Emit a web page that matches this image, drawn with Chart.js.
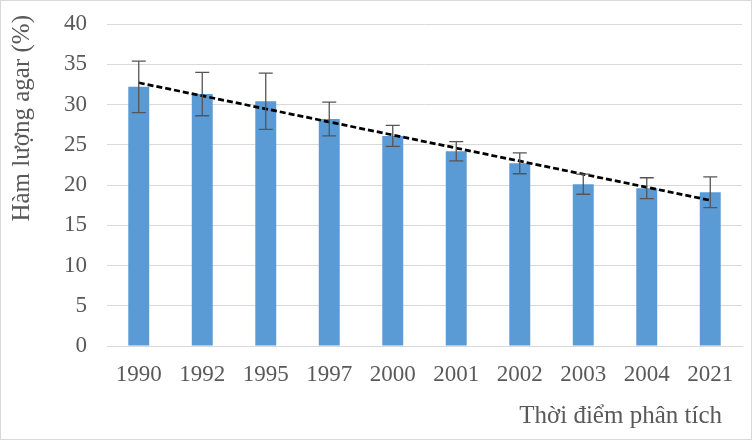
<!DOCTYPE html>
<html>
<head>
<meta charset="utf-8">
<script src="https://cdn.jsdelivr.net/npm/chart.js@4.4.0/dist/chart.umd.min.js"></script>
<style>
  body { margin: 0; background: #fff; }
  #wrap { width: 752px; height: 440px; position: relative; }
  #frame { position: absolute; left: 0; top: 0; width: 752px; height: 440px; box-sizing: border-box; border: 1px solid #d9d9d9; pointer-events: none; }
</style>
</head>
<body>
<div id="wrap"><canvas id="agar"></canvas><div id="frame"></div></div>
<script>
// Hàm lượng agar theo thời điểm phân tích
const years = ['1990', '1992', '1995', '1997', '2000', '2001', '2002', '2003', '2004', '2021'];
const agar = [32.2, 31.3, 30.4, 28.2, 26.1, 24.2, 22.7, 20.1, 19.6, 19.1];
const agarErr = [3.2, 2.7, 3.5, 2.1, 1.3, 1.2, 1.3, 1.25, 1.3, 1.9];
// đường xu hướng (điểm đầu và điểm cuối)
const trend = [32.7, null, null, null, null, null, null, null, null, 18.1];
const yTicks = [0, 5, 10, 15, 20, 25, 30, 35, 40];

const textColor = '#595959';
const serif = 'Liberation Serif, Times New Roman, serif';

// thanh sai số
const errorBars = {
  id: 'errorBars',
  afterDatasetsDraw(chart) {
    const ctx = chart.ctx;
    const y = chart.scales.y;
    const meta = chart.getDatasetMeta(0);
    ctx.save();
    ctx.strokeStyle = '#555555';
    ctx.lineWidth = 1.3;
    meta.data.forEach((bar, i) => {
      const top = y.getPixelForValue(agar[i] + agarErr[i]);
      const bot = y.getPixelForValue(agar[i] - agarErr[i]);
      ctx.beginPath();
      ctx.moveTo(bar.x, top);
      ctx.lineTo(bar.x, bot);
      ctx.moveTo(bar.x - 7, top);
      ctx.lineTo(bar.x + 7, top);
      ctx.moveTo(bar.x - 7, bot);
      ctx.lineTo(bar.x + 7, bot);
      ctx.stroke();
    });
    ctx.restore();
  }
};

// tiêu đề trục
const axisTitles = {
  id: 'axisTitles',
  afterDraw(chart) {
    const ctx = chart.ctx;
    const area = chart.chartArea;
    ctx.save();
    ctx.fillStyle = textColor;
    ctx.font = '25px ' + serif;
    ctx.textBaseline = 'middle';
    ctx.textAlign = 'right';
    ctx.fillText('Thời điểm phân tích', area.right - 20, area.bottom + 70);
    ctx.translate(22, area.top - 9);
    ctx.rotate(-Math.PI / 2);
    ctx.fillText('Hàm lượng agar (%)', 0, 0);
    ctx.restore();
  }
};

const ctx = document.getElementById('agar').getContext('2d');

const agarChart = new Chart(ctx, {
  type: 'bar',
  data: {
    labels: years,
    datasets: [{
      type: 'bar',
      data: agar,
      backgroundColor: '#5b9bd5',
      barPercentage: 0.33,
      categoryPercentage: 1,
      order: 2
    }, {
      type: 'line',
      data: trend,
      borderColor: '#000000',
      borderWidth: 2.75,
      borderDash: [6, 3],
      pointRadius: 0,
      spanGaps: true,
      fill: false,
      order: 1
    }]
  },
  plugins: [errorBars, axisTitles],
  options: {
    responsive: true,
    maintainAspectRatio: false,
    animation: false,
    layout: {
      padding: { top: 24, right: 10, left: 0, bottom: 0 }
    },
    scales: {
      x: {
        grid: { display: false, drawTicks: false },
        border: { display: true, color: '#d9d9d9', width: 1 },
        ticks: {
          color: textColor,
          font: { family: serif, size: 23 },
          padding: 15,
          maxRotation: 0
        },
        afterFit(scale) {
          scale.height = 94;
          scale.paddingLeft = 0;
          scale.paddingRight = 0;
        }
      },
      y: {
        min: 0,
        max: 40,
        afterBuildTicks(scale) { scale.ticks = yTicks.map(v => ({ value: v })); },
        grid: { color: '#d9d9d9', drawTicks: false },
        border: { display: false },
        ticks: {
          color: textColor,
          font: { family: serif, size: 23 },
          padding: 20
        },
        afterFit(scale) {
          scale.width = 107;
          scale.paddingTop = 0;
          scale.paddingBottom = 0;
        }
      }
    },
    plugins: {
      legend: { display: false },
      tooltip: { enabled: false }
    }
  }
});
</script>
</body>
</html>
